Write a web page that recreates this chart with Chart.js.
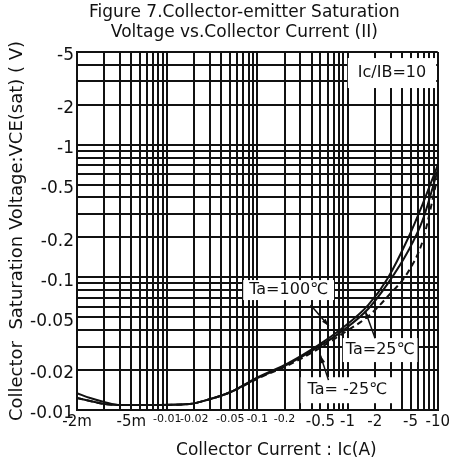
<!DOCTYPE html>
<html>
<head>
<meta charset="utf-8">
<script src="https://cdn.jsdelivr.net/npm/chart.js@4.4.0/dist/chart.umd.min.js"></script>
<style>
  html, body { margin: 0; padding: 0; background: #fff; }
  #wrap { width: 453px; height: 467px; }
</style>
</head>
<body>
<div id="wrap"><canvas id="chart"></canvas></div>
<script>
// Collector current magnitude (A); the axis shows them as negative values
const current = [0.001, 0.0014, 0.002, 0.003, 0.006, 0.0175, 0.03, 0.05, 0.1, 0.22, 0.48, 0.9, 1.7, 2.8, 4.7, 6.8, 10];

// |VCE(sat)| in volts for each ambient temperature
const vce100 = [0.0134, 0.0123, 0.0115, 0.0109, 0.0109, 0.0111, 0.0121, 0.0136, 0.0176, 0.0226, 0.031, 0.042, 0.062, 0.099, 0.198, 0.357, 0.703];
const vce25 = [0.0123, 0.0117, 0.0111, 0.0109, 0.0109, 0.0111, 0.0121, 0.0136, 0.0174, 0.0222, 0.030, 0.040, 0.058, 0.090, 0.158, 0.27, 0.644];
const vceMinus25 = [0.0123, 0.0117, 0.0111, 0.0109, 0.0109, 0.0111, 0.0121, 0.0136, 0.0172, 0.0218, 0.029, 0.038, 0.051, 0.072, 0.11, 0.188, 0.581];

// Tick labels as printed on the figure
const xTickValues = [0.001, 0.004, 0.01, 0.02, 0.05, 0.1, 0.2, 0.5, 1, 2, 5, 10];
const xTickLabels = ['-2m', '-5m', '-0.01', '-0.02', '-0.05', '-0.1', '-0.2', '-0.5', '-1', '-2', '-5', '-10'];
const xSmallTicks = [0.01, 0.02, 0.05, 0.1, 0.2];
const yTickValues = [5, 2, 1, 0.5, 0.2, 0.1, 0.05, 0.02, 0.01];
const yTickLabels = ['-5', '-2', '-1', '-0.5', '-0.2', '-0.1', '-0.05', '-0.02', '-0.01'];

const FONT = 'DejaVu Sans';

// Text notes on the plot (anchored in data space)
const notes = [
  { text: 'Ic/IB=10', x: 3.11, y: 3.47, padX: 10, padY: 7 },
  { text: 'Ta=100℃', x: 0.222, y: 0.0802, padX: 6, padY: 2, arrow: [[0.389, 0.0618], [0.62, 0.043]] },
  { text: 'Ta=25℃', x: 2.30, y: 0.0283, padX: 3, padY: 4, arrow: [[2.02, 0.0348], [1.57, 0.0557]] },
  { text: 'Ta= -25℃', x: 0.994, y: 0.0141, padX: 7, padY: 5, arrow: [[0.614, 0.0168], [0.501, 0.0258]] }
];

// every 1..9 x 10^n value between min and max, used as grid lines
function logGrid(min, max) {
  const vals = [];
  for (let e = Math.floor(Math.log10(min)); e <= Math.ceil(Math.log10(max)); e++) {
    for (let m = 1; m <= 9; m++) {
      const v = parseFloat((m * Math.pow(10, e)).toPrecision(6));
      if (v >= min * 0.999 && v <= max * 1.001) vals.push(v);
    }
  }
  return vals;
}

function findTick(list, v) {
  return list.findIndex(t => Math.abs(t / v - 1) < 1e-6);
}

function toPoints(ys) {
  return current.map((x, i) => ({ x: x, y: ys[i] }));
}

const notesPlugin = {
  id: 'notes',
  beforeDatasetsDraw(chart) {
    const { ctx, scales } = chart;
    ctx.save();
    ctx.font = '16px "' + FONT + '"';
    ctx.textAlign = 'center';
    ctx.textBaseline = 'middle';
    notes.forEach(n => {
      const cx = scales.x.getPixelForValue(n.x);
      const cy = scales.y.getPixelForValue(n.y);
      const w = ctx.measureText(n.text).width;
      ctx.fillStyle = '#fff';
      ctx.fillRect(cx - w / 2 - n.padX, cy - 8 - n.padY, w + 2 * n.padX, 16 + 2 * n.padY);
      ctx.fillStyle = '#111';
      ctx.fillText(n.text, cx, cy);
      if (n.arrow) {
        const x1 = scales.x.getPixelForValue(n.arrow[0][0]);
        const y1 = scales.y.getPixelForValue(n.arrow[0][1]);
        const x2 = scales.x.getPixelForValue(n.arrow[1][0]);
        const y2 = scales.y.getPixelForValue(n.arrow[1][1]);
        const a = Math.atan2(y2 - y1, x2 - x1);
        ctx.strokeStyle = '#111';
        ctx.lineWidth = 1.5;
        ctx.beginPath();
        ctx.moveTo(x1, y1);
        ctx.lineTo(x2, y2);
        ctx.stroke();
        ctx.beginPath();
        ctx.moveTo(x2, y2);
        ctx.lineTo(x2 - 8 * Math.cos(a - 0.3), y2 - 8 * Math.sin(a - 0.3));
        ctx.lineTo(x2 - 8 * Math.cos(a + 0.3), y2 - 8 * Math.sin(a + 0.3));
        ctx.closePath();
        ctx.fill();
      }
    });
    ctx.restore();
  }
};

// figure title and x-axis title, placed like the printed figure
const titlesPlugin = {
  id: 'titles',
  afterDraw(chart) {
    const { ctx, chartArea } = chart;
    const mid = (chartArea.left + chartArea.right) / 2;
    ctx.save();
    ctx.fillStyle = '#111';
    ctx.font = '17px "' + FONT + '"';
    ctx.textAlign = 'center';
    ctx.textBaseline = 'middle';
    ctx.fillText('Figure 7.Collector-emitter Saturation', mid - 13, 13);
    ctx.fillText('Voltage vs.Collector Current (II)', mid - 13, 33);
    ctx.fillText('Collector Current : Ic(A)', mid + 19, chart.height - 16);
    ctx.restore();
  }
};

const ctx = document.getElementById('chart').getContext('2d');

new Chart(ctx, {
  type: 'line',
  data: {
    datasets: [
      { label: 'Ta=100℃', data: toPoints(vce100), borderColor: '#111', borderWidth: 2 },
      { label: 'Ta=25℃', data: toPoints(vce25), borderColor: '#111', borderWidth: 2 },
      { label: 'Ta=-25℃', data: toPoints(vceMinus25), borderColor: '#111', borderWidth: 2, borderDash: [6, 4] }
    ]
  },
  options: {
    responsive: true,
    maintainAspectRatio: false,
    animation: false,
    layout: { padding: { top: 52, right: 13, bottom: 32, left: 0 } },
    elements: {
      point: { radius: 0 },
      line: { cubicInterpolationMode: 'monotone', fill: false }
    },
    plugins: {
      legend: { display: false },
      tooltip: { enabled: false },
      title: { display: false }
    },
    scales: {
      x: {
        type: 'logarithmic',
        min: 0.001,
        max: 10,
        afterBuildTicks: (scale) => {
          scale.ticks = logGrid(0.001, 10).map(v => ({ value: v }));
        },
        afterFit: (scale) => { scale.height = 25; },
        grid: { color: '#111', lineWidth: 2, drawTicks: false },
        border: { color: '#111', width: 2 },
        ticks: {
          autoSkip: false,
          maxRotation: 0,
          padding: 3,
          color: '#111',
          font: (c) => ({
            family: FONT,
            size: c.tick && findTick(xSmallTicks, c.tick.value) >= 0 ? 11 : 15
          }),
          callback: (v) => {
            const i = findTick(xTickValues, v);
            return i < 0 ? '' : xTickLabels[i];
          }
        }
      },
      y: {
        type: 'logarithmic',
        min: 0.01,
        max: 5,
        afterBuildTicks: (scale) => {
          scale.ticks = logGrid(0.01, 5).map(v => ({ value: v }));
        },
        afterFit: (scale) => { scale.width = 77; },
        grid: { color: '#111', lineWidth: 2, drawTicks: false },
        border: { color: '#111', width: 2 },
        title: {
          display: true,
          text: 'Collector  Saturation Voltage:VCE(sat) ( V)',
          color: '#111',
          font: { family: FONT, size: 18 },
          padding: { top: 7, bottom: 0 }
        },
        ticks: {
          autoSkip: false,
          padding: 3,
          labelOffset: 4,
          color: '#111',
          font: { family: FONT, size: 17 },
          callback: (v) => {
            const i = findTick(yTickValues, v);
            return i < 0 ? '' : yTickLabels[i];
          }
        }
      }
    }
  },
  plugins: [notesPlugin, titlesPlugin]
});
</script>
</body>
</html>
